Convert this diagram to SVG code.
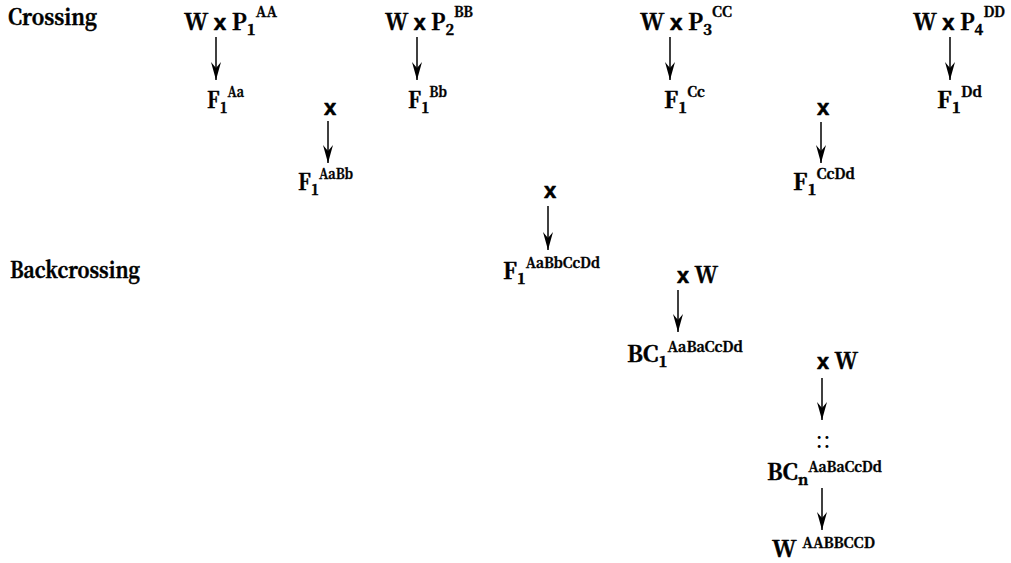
<svg xmlns="http://www.w3.org/2000/svg" width="1011" height="563" viewBox="0 0 1011 563">
<style>
text{font-family:'Noto Serif CJK SC','Noto Serif CJK JP','Liberation Serif',serif;font-weight:700;font-size:22px;fill:#000;stroke:#000;stroke-width:0.55;stroke-linejoin:round}
.x{font-family:'Liberation Sans',Arial,sans-serif;font-weight:700}
.sub{font-size:15px}
.sup{font-size:14px;stroke-width:0.4}
.dots{font-weight:400;font-size:24px;stroke-width:0}
.arr{stroke:#000;stroke-width:1.5;fill:none;marker-end:url(#ah)}
</style>
<defs>
<marker id="ah" viewBox="0 -5 18 10" refX="18" refY="0" markerWidth="18" markerHeight="10" markerUnits="userSpaceOnUse" orient="auto">
<path d="M0,-5 L18,0 L0,5 L6,0 Z" fill="#000"/>
</marker>
</defs>
<rect width="1011" height="563" fill="#fff"/>
<g id="labels">
<text id="crossing" x="8" y="25" textLength="89" lengthAdjust="spacingAndGlyphs">Crossing</text>
<text id="backcrossing" x="10" y="278" textLength="130" lengthAdjust="spacingAndGlyphs">Backcrossing</text>
</g>
<g id="cross1"><text x="184" y="30" textLength="93" lengthAdjust="spacingAndGlyphs">W <tspan class="x">x</tspan> P<tspan class="sub" dy="5">1</tspan><tspan class="sup" dy="-18">AA</tspan></text></g>
<g id="f1aa"><text x="207" y="108" textLength="37" lengthAdjust="spacingAndGlyphs">F<tspan class="sub" dy="5">1</tspan><tspan class="sup" dy="-16">Aa</tspan></text></g>
<g id="cross2"><text x="385" y="30" textLength="88" lengthAdjust="spacingAndGlyphs">W <tspan class="x">x</tspan> P<tspan class="sub" dy="5">2</tspan><tspan class="sup" dy="-18">BB</tspan></text></g>
<g id="f1bb"><text x="408" y="108" textLength="39" lengthAdjust="spacingAndGlyphs">F<tspan class="sub" dy="5">1</tspan><tspan class="sup" dy="-16">Bb</tspan></text></g>
<g id="cross3"><text x="640" y="30" textLength="92" lengthAdjust="spacingAndGlyphs">W <tspan class="x">x</tspan> P<tspan class="sub" dy="5">3</tspan><tspan class="sup" dy="-18">CC</tspan></text></g>
<g id="f1cc"><text x="664" y="108" textLength="41" lengthAdjust="spacingAndGlyphs">F<tspan class="sub" dy="5">1</tspan><tspan class="sup" dy="-16">Cc</tspan></text></g>
<g id="cross4"><text x="913" y="30" textLength="92" lengthAdjust="spacingAndGlyphs">W <tspan class="x">x</tspan> P<tspan class="sub" dy="5">4</tspan><tspan class="sup" dy="-18">DD</tspan></text></g>
<g id="f1dd"><text x="937" y="108" textLength="45" lengthAdjust="spacingAndGlyphs">F<tspan class="sub" dy="5">1</tspan><tspan class="sup" dy="-16">Dd</tspan></text></g>
<g id="xab"><text class="x" x="330" y="115" text-anchor="middle">x</text></g>
<g id="f1aabb"><text x="298" y="190" textLength="55" lengthAdjust="spacingAndGlyphs">F<tspan class="sub" dy="5">1</tspan><tspan class="sup" dy="-16">AaBb</tspan></text></g>
<g id="xcd"><text class="x" x="823" y="115" text-anchor="middle">x</text></g>
<g id="f1ccdd"><text x="793" y="190" textLength="62" lengthAdjust="spacingAndGlyphs">F<tspan class="sub" dy="5">1</tspan><tspan class="sup" dy="-16">CcDd</tspan></text></g>
<g id="xall"><text class="x" x="550" y="198" text-anchor="middle">x</text></g>
<g id="f1all"><text x="503" y="279" textLength="97" lengthAdjust="spacingAndGlyphs">F<tspan class="sub" dy="5">1</tspan><tspan class="sup" dy="-16">AaBbCcDd</tspan></text></g>
<g id="xw1"><text x="677" y="283" textLength="41" lengthAdjust="spacingAndGlyphs"><tspan class="x">x</tspan> W</text></g>
<g id="bc1"><text x="627" y="362" textLength="116" lengthAdjust="spacingAndGlyphs">BC<tspan class="sub" dy="5">1</tspan><tspan class="sup" dy="-15">AaBaCcDd</tspan></text></g>
<g id="xw2"><text x="817" y="369" textLength="41" lengthAdjust="spacingAndGlyphs"><tspan class="x">x</tspan> W</text></g>
<g id="dots"><text class="dots" x="823" y="448" text-anchor="middle">::</text></g>
<g id="bcn"><text x="767" y="480" textLength="115" lengthAdjust="spacingAndGlyphs">BC<tspan class="sub" dy="5">n</tspan><tspan class="sup" dy="-13">AaBaCcDd</tspan></text></g>
<g id="wfinal"><text x="772" y="557" textLength="103" lengthAdjust="spacingAndGlyphs">W <tspan class="sup" dy="-9">AABBCCD</tspan></text></g>
<g id="connectors">
<line class="arr" x1="216" y1="37" x2="216" y2="80"/>
<line class="arr" x1="417" y1="37" x2="417" y2="80"/>
<line class="arr" x1="670" y1="37" x2="670" y2="80"/>
<line class="arr" x1="950" y1="37" x2="950" y2="80"/>
<line class="arr" x1="328" y1="121" x2="328" y2="163"/>
<line class="arr" x1="821" y1="122" x2="821" y2="163"/>
<line class="arr" x1="548" y1="206" x2="548" y2="250"/>
<line class="arr" x1="678" y1="290" x2="678" y2="332"/>
<line class="arr" x1="822" y1="378" x2="822" y2="420"/>
<line class="arr" x1="822" y1="488" x2="822" y2="530"/>
</g>
</svg>
